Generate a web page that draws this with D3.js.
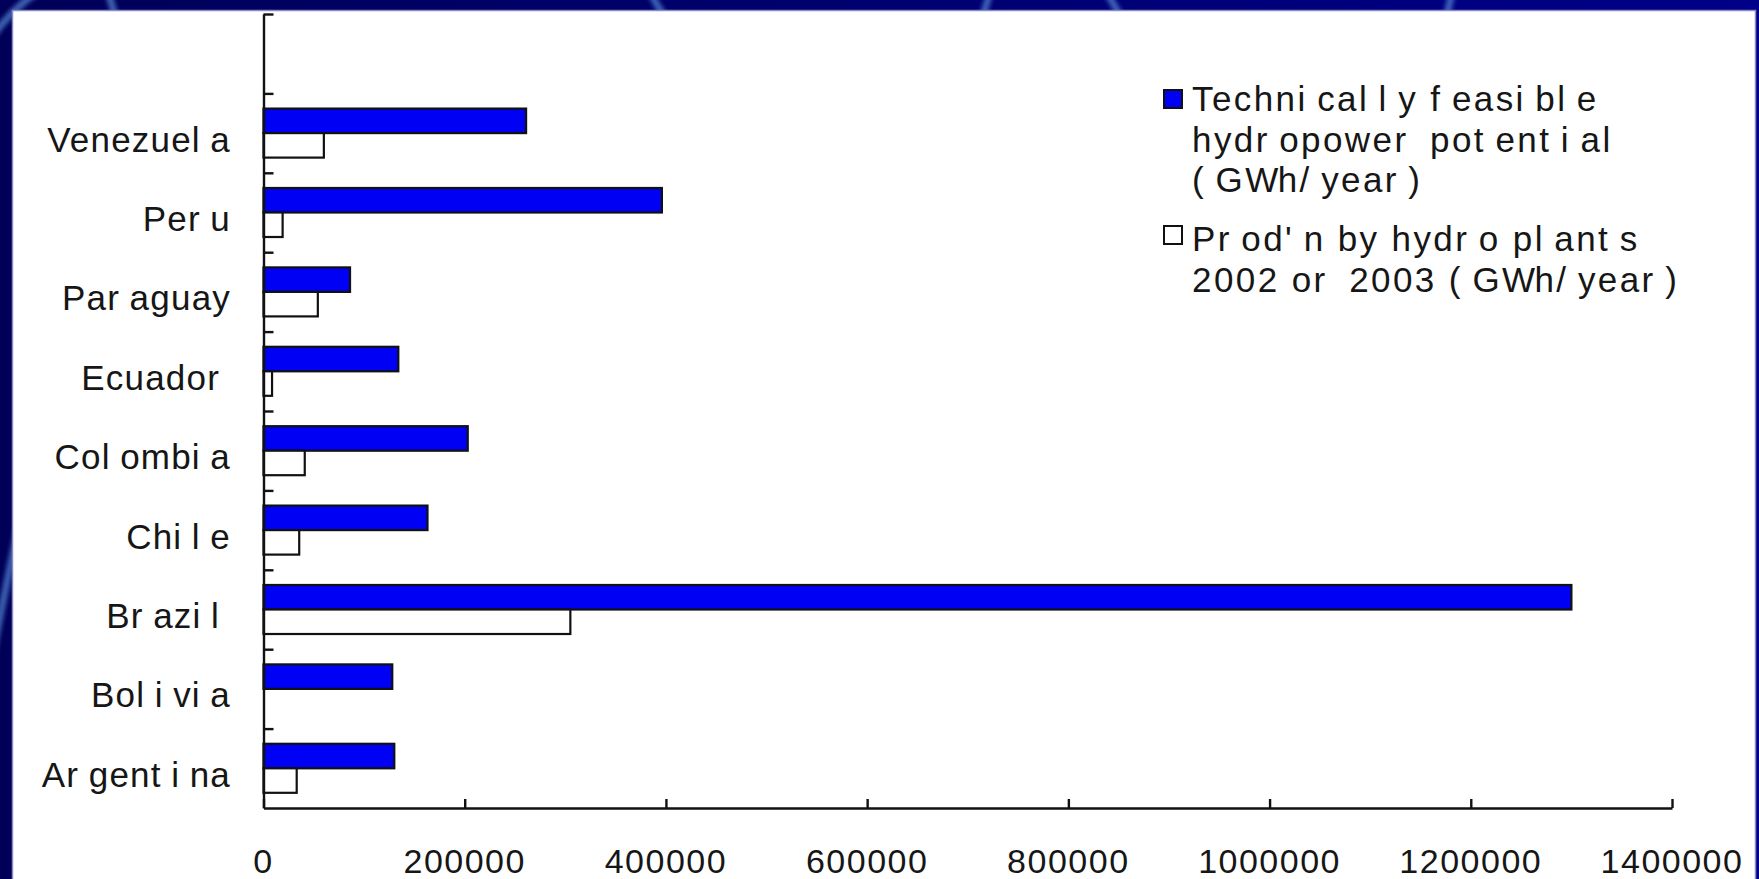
<!DOCTYPE html>
<html>
<head>
<meta charset="utf-8">
<script src="https://cdn.jsdelivr.net/npm/d3@7"></script>
<style>
  html, body { margin: 0; padding: 0; background: #00005e; overflow: hidden; }
  text { white-space: pre; }
</style>
</head>
<body>
<svg id="chart" width="1759" height="879"></svg>
<script>
// Hydropower in South America (GWh/year)
const categories = ["Argentina", "Bolivia", "Brazil", "Chile", "Colombia", "Ecuador", "Paraguay", "Peru", "Venezuela"];
const potential  = [130000, 128000, 1300000, 163000, 203000, 134000, 86000, 396000, 261000];
const production = [33000, 0, 305000, 35500, 41000, 8500, 54000, 19000, 60000];
const legendLines = [
  ["Technically feasible", "hydropower potential", "(GWh/year)"],
  ["Prod'n by hydro plants", "2002 or 2003 (GWh/year)"]
];
const xTickValues = [0, 200000, 400000, 600000, 800000, 1000000, 1200000, 1400000];

const W = 1759, H = 879;
const svg = d3.select("#chart");
const FONT = "'Liberation Sans', Arial, sans-serif";
const FS = 35;
const GAP = 9.5;
const narrow = new Set(["i", "l", "r", "t", "f", "'", "(", "/"]);

// text whose narrow glyphs carry a wide advance
function spacedText(sel, str, gap) {
  const chars = Array.from(str);
  chars.forEach((c, i) => {
    let dx = 0;
    if (i > 0 && narrow.has(chars[i - 1])) dx += gap;
    if (i > 0 && chars[i - 1] === "W" && c === "h") dx -= 3;
    sel.append("tspan").attr("dx", dx).text(c);
  });
  return sel;
}

// slide background
const defs = svg.append("defs");
const bg = defs.append("linearGradient").attr("id", "bg").attr("x1", 0).attr("y1", 0).attr("x2", 1).attr("y2", 0);
bg.append("stop").attr("offset", 0).attr("stop-color", "#000058");
bg.append("stop").attr("offset", 0.5).attr("stop-color", "#000070");
bg.append("stop").attr("offset", 1).attr("stop-color", "#000088");
defs.append("filter").attr("id", "soft").append("feGaussianBlur").attr("stdDeviation", 2);
svg.append("rect").attr("width", W).attr("height", H).attr("fill", "url(#bg)");

const swooshes = [
  "M 95 -40 Q 140 60 120 160",
  "M 640 -30 Q 660 20 700 60",
  "M 1000 -30 Q 975 20 980 70",
  "M 1095 -30 Q 1120 20 1150 60",
  "M 1460 -30 Q 1440 20 1445 70",
  "M -20 720 Q 10 560 40 430",
  "M -10 40 Q 10 10 40 -10"
];
svg.append("g").attr("filter", "url(#soft)")
  .selectAll("path").data(swooshes).join("path")
  .attr("d", d => d)
  .attr("fill", "none")
  .attr("stroke", "#4a78c8")
  .attr("stroke-width", 7)
  .attr("opacity", 0.8);

// white chart panel
svg.append("rect")
  .attr("x", 12.5).attr("y", 10.5)
  .attr("width", 1743).attr("height", 900)
  .attr("fill", "#ffffff")
  .attr("stroke", "#8a8ac4").attr("stroke-width", 1.5);

// scales
const x = d3.scaleLinear().domain([0, 1400000]).range([263.5, 1672]);
const step = 79.4;
const y0 = 808;
const y = d3.scaleBand().domain(categories).range([y0, y0 - categories.length * step]).paddingInner(0).paddingOuter(0);
const ySub = d3.scaleBand().domain([0, 1]).range([0, y.bandwidth()]).paddingInner(0).paddingOuter(0.62);
const yEdge = d3.scaleLinear().domain([0, categories.length + 1]).range([y0, y0 - (categories.length + 1) * step]);

const g = svg.append("g");

// bars: potential (blue) above, production (white) below
const series = [
  { values: potential, fill: "#0000f4" },
  { values: production, fill: "#ffffff" }
];
series.forEach((s, si) => {
  g.append("g").selectAll("rect")
    .data(categories.map((c, i) => ({ c, v: s.values[i] })).filter(d => d.v > 0))
    .join("rect")
    .attr("x", x(0))
    .attr("y", d => y(d.c) + ySub(si))
    .attr("width", d => x(d.v) - x(0))
    .attr("height", ySub.bandwidth())
    .attr("fill", s.fill)
    .attr("stroke", "#111")
    .attr("stroke-width", 2.2);
});

// category axis
const yAxis = g.append("g").attr("transform", `translate(${x(0)},0)`)
  .call(d3.axisRight(yEdge).tickValues(d3.range(1, categories.length + 2)).tickSize(10).tickSizeOuter(0).tickFormat(""));
yAxis.selectAll("path, line").attr("stroke", "#111").attr("stroke-width", 2.4);

categories.forEach(c => {
  const last = c[c.length - 1];
  const t = g.append("text")
    .attr("x", 231 - (narrow.has(last) ? 11 : 0))
    .attr("y", y(c) + y.bandwidth() / 2 + 18.5)
    .attr("text-anchor", "end")
    .attr("font-family", FONT).attr("font-size", FS)
    .attr("letter-spacing", 1.2)
    .attr("fill", "#161616");
  spacedText(t, c, GAP);
});

// value axis
const xAxis = g.append("g").attr("transform", `translate(0,${y0})`)
  .call(d3.axisBottom(x).tickValues(xTickValues).tickSize(-9).tickSizeOuter(0).tickFormat(""));
xAxis.selectAll("path, line").attr("stroke", "#111").attr("stroke-width", 2.4);

g.append("g").selectAll("text").data(xTickValues).join("text")
  .attr("x", d => x(d))
  .attr("y", 873)
  .attr("text-anchor", "middle")
  .attr("font-family", FONT).attr("font-size", 34)
  .attr("letter-spacing", 1.5)
  .attr("fill", "#161616")
  .text(d => d3.format("d")(d));

// legend
const legend = g.append("g");
const legendItems = [
  { fill: "#0000f4", box: 90, lines: legendLines[0], base: 111 },
  { fill: "#ffffff", box: 226, lines: legendLines[1], base: 251 }
];
legendItems.forEach(it => {
  legend.append("rect")
    .attr("x", 1164).attr("y", it.box).attr("width", 18).attr("height", 18)
    .attr("fill", it.fill).attr("stroke", "#111").attr("stroke-width", 2);
  it.lines.forEach((ln, li) => {
    const t = legend.append("text")
      .attr("x", 1192).attr("y", it.base + li * 40.5)
      .attr("font-family", FONT).attr("font-size", FS)
      .attr("letter-spacing", 2.4)
      .attr("fill", "#161616");
    spacedText(t, ln, GAP);
  });
});
</script>
</body>
</html>
